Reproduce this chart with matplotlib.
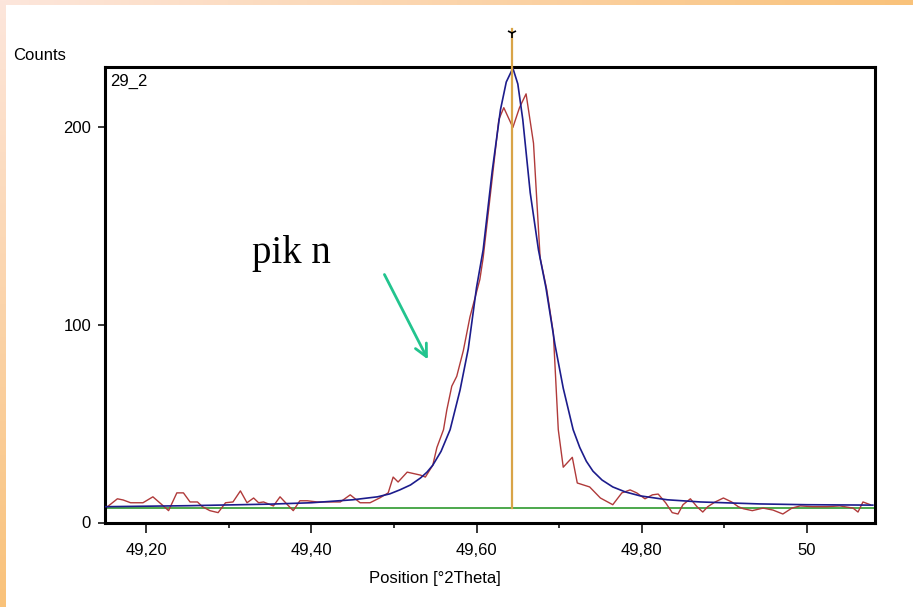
import numpy as np
import matplotlib
matplotlib.use("Agg")
from matplotlib import pyplot as plt

# measured pattern (red)
meas_x = [49.153, 49.165, 49.172, 49.181, 49.196, 49.208, 49.219, 49.227, 49.237, 49.245,
          49.253, 49.262, 49.268, 49.277, 49.287, 49.296, 49.305, 49.314, 49.322, 49.330,
          49.336, 49.342, 49.348, 49.354, 49.362, 49.371, 49.378, 49.386, 49.395, 49.407,
          49.419, 49.435, 49.447, 49.459, 49.471, 49.483, 49.493, 49.499, 49.505, 49.516,
          49.532, 49.538, 49.547, 49.552, 49.560, 49.564, 49.570, 49.576, 49.584, 49.592,
          49.604, 49.608, 49.620, 49.627, 49.633, 49.644, 49.652, 49.660, 49.669, 49.677,
          49.685, 49.693, 49.699, 49.705, 49.716, 49.722, 49.737, 49.750, 49.765, 49.776,
          49.786, 49.794, 49.804, 49.813, 49.820, 49.829, 49.837, 49.844, 49.850, 49.859,
          49.867, 49.874, 49.880, 49.889, 49.899, 49.909, 49.917, 49.923, 49.934, 49.947,
          49.959, 49.971, 49.982, 49.992, 50.007, 50.024, 50.040, 50.056, 50.062, 50.068,
          50.077]
meas_y = [8, 12, 11.4, 10, 10, 13, 9, 6, 15, 15,
          10.4, 10.4, 8, 6, 5, 10, 10.4, 16, 10, 12.4,
          10, 10.4, 9.4, 8.4, 13, 9, 6, 11, 11, 10.4,
          10.4, 10.4, 14, 10, 10, 12.5, 15, 23, 20.5, 25.5,
          24, 23, 29, 38, 47, 57, 69, 74, 87, 104,
          123, 134, 178, 204, 210, 200, 210, 217, 192, 134,
          118, 96, 47, 28, 33, 20, 18, 12.4, 9, 15,
          16.5, 15, 12, 14, 14.4, 10, 5, 4.3, 9, 12,
          8, 5.3, 8, 10.4, 12.4, 10.4, 8, 7, 6, 7.3,
          6.3, 4.3, 7.3, 8.4, 8, 8, 8.4, 7.3, 5.3, 10.4,
          9]

# fitted profile (blue)
fit_x = [49.150, 49.250, 49.350, 49.400, 49.450, 49.480, 49.495, 49.507, 49.520, 49.532,
         49.540, 49.547, 49.557, 49.568, 49.580, 49.590, 49.600, 49.608, 49.619, 49.629,
         49.636, 49.644, 49.650, 49.656, 49.665, 49.675, 49.684, 49.695, 49.705, 49.717,
         49.725, 49.733, 49.741, 49.752, 49.765, 49.780, 49.798, 49.831, 49.871, 49.943,
         50.000, 50.080]
fit_y = [8.0, 8.5, 9.3, 10.0, 11.5, 13.0, 14.5, 16.5, 19.0, 22.5,
         25.5, 29, 36, 47, 67, 88, 119, 138, 178, 209,
         223, 230, 222, 204, 167, 138, 119, 90, 68, 47,
         38, 31, 26, 21.5, 18, 15.5, 13.5, 11.5, 10.4, 9.4,
         9.0, 8.8]

background = 7.3
peak_pos = 49.643
peak_top = 250

xticks = [49.2, 49.4, 49.6, 49.8, 50.0]
xtick_labels = ['49,20', '49,40', '49,60', '49,80', '50']
xminor = [49.3, 49.5, 49.7, 49.9]
yticks = [0, 100, 200]
ytick_labels = ['0', '100', '200']

plt.rcParams['font.family'] = ['Liberation Sans', 'DejaVu Sans']

fig = plt.figure(figsize=(9.13, 6.07), dpi=100)
fig.patch.set_facecolor('white')

# orange frame strips
grad = np.linspace(0, 1, 256)
top = fig.add_axes([0, 1 - 5/607, 1, 5/607])
top.imshow(grad[None, :], aspect='auto',
           cmap=matplotlib.colors.LinearSegmentedColormap.from_list('t', ['#fde6dc', '#f9c27a']))
top.axis('off')
left = fig.add_axes([0, 0, 5/913, 1])
left.imshow(grad[:, None], aspect='auto', origin='lower',
            cmap=matplotlib.colors.LinearSegmentedColormap.from_list('l', ['#f9c27a', '#fde6dc']))
left.axis('off')

ax = fig.add_axes([105/913, 1 - 522.5/607, 770/913, 455.5/607])
ax.axhline(background, color='#2e9a2e', lw=1.2, zorder=1)
ax.plot(meas_x, meas_y, color='#b03a3a', lw=1.0, zorder=2)
ax.plot(fit_x, fit_y, color='#1c1c8c', lw=1.2, zorder=3)
ax.plot([peak_pos, peak_pos], [background, peak_top], color='#d9a448', lw=1.6,
        clip_on=False, zorder=4)
ax.plot([peak_pos], [peak_top - 2], marker='1', color='black', ms=7, mew=1.2,
        clip_on=False, zorder=5)

ax.set_xlim(49.150, 50.0826)
ax.set_ylim(0, 230.6)
ax.set_xticks(xticks)
ax.set_xticklabels(xtick_labels)
ax.set_xticks(xminor, minor=True)
ax.set_yticks(yticks)
ax.set_yticklabels(ytick_labels)
ax.tick_params(axis='x', which='major', direction='out', length=7, width=1.1,
               labelsize=12, pad=8)
ax.tick_params(axis='x', which='minor', direction='out', length=3.5, width=1.1)
ax.tick_params(axis='y', direction='out', length=5, width=1.1, labelsize=12, pad=5)
for s in ax.spines.values():
    s.set_linewidth(2.2)
    s.set_color('black')

ax.text(0.007, 0.985, '29_2', transform=ax.transAxes, ha='left', va='top', fontsize=12)
fig.text(13/913, 1 - 55/607, 'Counts', ha='left', va='center', fontsize=12)
fig.text(435/913, 1 - 578/607, 'Position [°2Theta]', ha='center', va='center', fontsize=12)

ax.text(49.3283, 131.4, 'pik n', family='Liberation Serif', fontsize=28,
        ha='left', va='baseline')
ax.annotate('', xy=(49.5426, 81.3), xytext=(49.4869, 126.8),
            arrowprops=dict(arrowstyle='->', color='#22c48e', lw=2, mutation_scale=22))

fig.savefig('out.png', dpi=100)
